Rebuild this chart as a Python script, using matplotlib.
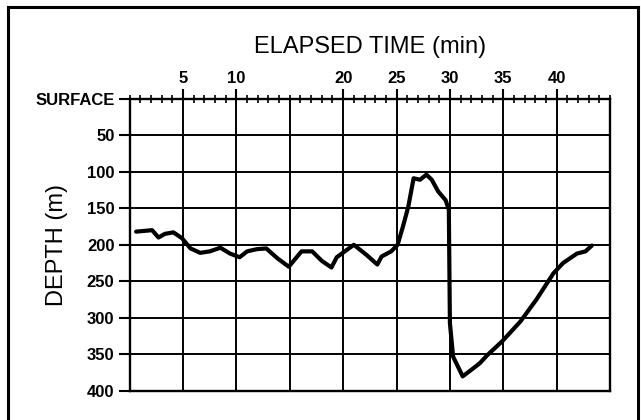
import matplotlib
matplotlib.use("Agg")
import matplotlib.pyplot as plt
from matplotlib.lines import Line2D
from matplotlib.ticker import MultipleLocator, FixedLocator

# ---- data ----
time_min = [0.6, 2.1, 2.7, 3.3, 4.1, 4.9, 5.7, 6.6, 7.5, 8.5, 9.4, 10.3, 11.0, 11.9,
            12.8, 13.8, 14.9, 16.1, 17.1, 18.0, 18.9, 19.4, 21.0, 22.2, 23.2, 23.6,
            24.5, 25.1, 25.6, 26.1, 26.6, 27.2, 27.8, 28.3, 28.9, 29.6, 29.9, 30.0,
            30.3, 31.2, 32.1, 32.8, 33.5, 34.9, 36.6, 38.1, 39.7, 40.6, 41.9, 42.7, 43.3]
depth_m = [182, 180, 190, 185, 183, 191, 205, 211, 209, 204, 212, 217, 209, 206,
           205, 218, 230, 209, 209, 222, 231, 217, 200, 214, 227, 216,
           209, 200, 175, 148, 109, 111, 104, 111, 127, 139, 152, 307,
           353, 380, 370, 362, 351, 332, 305, 275, 239, 225, 212, 209, 201]

x_label_ticks = [5, 10, 20, 25, 30, 35, 40]
x_grid = [5, 10, 15, 20, 25, 30, 35, 40]
y_ticks = [0, 50, 100, 150, 200, 250, 300, 350, 400]
y_tick_labels = ["SURFACE", "50", "100", "150", "200", "250", "300", "350", "400"]

W, H = 641, 420
fig = plt.figure(figsize=(W / 100, H / 100), dpi=100)
L, R, T, B = 129.7, 610, 98.6, 391
ax = fig.add_axes([L / W, 1 - B / H, (R - L) / W, (B - T) / H])

ax.set_xlim(0, 45)
ax.set_ylim(400, 0)

# grid
for xv in x_grid:
    ax.axvline(xv, color="black", lw=1.4, zorder=1)
for yv in y_ticks[1:-1]:
    ax.axhline(yv, color="black", lw=1.4, zorder=1)

ax.plot(time_min, depth_m, color="black", lw=3.0, solid_capstyle="round",
        solid_joinstyle="round", zorder=3)

for s in ax.spines.values():
    s.set_linewidth(1.7)

tickfont = dict(family="Liberation Sans", weight="bold", size=12)

# x axis on top
ax.xaxis.tick_top()
ax.xaxis.set_major_locator(FixedLocator(x_label_ticks))
ax.xaxis.set_minor_locator(MultipleLocator(1))
ax.set_xticklabels([str(v) for v in x_label_ticks], fontdict=tickfont)
ax.tick_params(axis="x", which="major", direction="out", length=7, width=1.5, pad=2,
               top=True, bottom=False)
ax.tick_params(axis="x", which="minor", direction="inout", length=6, width=1.2,
               top=True, bottom=False)

# y axis
ax.set_yticks(y_ticks)
ax.set_yticklabels(y_tick_labels, fontdict=tickfont)
ax.tick_params(axis="y", which="major", direction="out", length=8, width=1.5, pad=3)

# titles
fig.text((L + R) / 2 / W, 1 - 47 / H, "ELAPSED TIME (min)", ha="center", va="center",
         family="Liberation Sans", fontsize=17)
fig.text(57 / W, 1 - (T + B) / 2 / H, "DEPTH (m)", ha="center", va="center",
         rotation=90, family="Liberation Sans", fontsize=17)

# outer frame (left, top, right)
x0, x1, y0 = 7.5 / W, 638 / W, 1 - 7 / H
fig.add_artist(Line2D([x0, x0], [0, y0], color="black", lw=2.2, transform=fig.transFigure))
fig.add_artist(Line2D([x0, x1], [y0, y0], color="black", lw=2.2, transform=fig.transFigure))
fig.add_artist(Line2D([x1, x1], [0, y0], color="black", lw=2.2, transform=fig.transFigure))

fig.savefig("out.png", dpi=100)
